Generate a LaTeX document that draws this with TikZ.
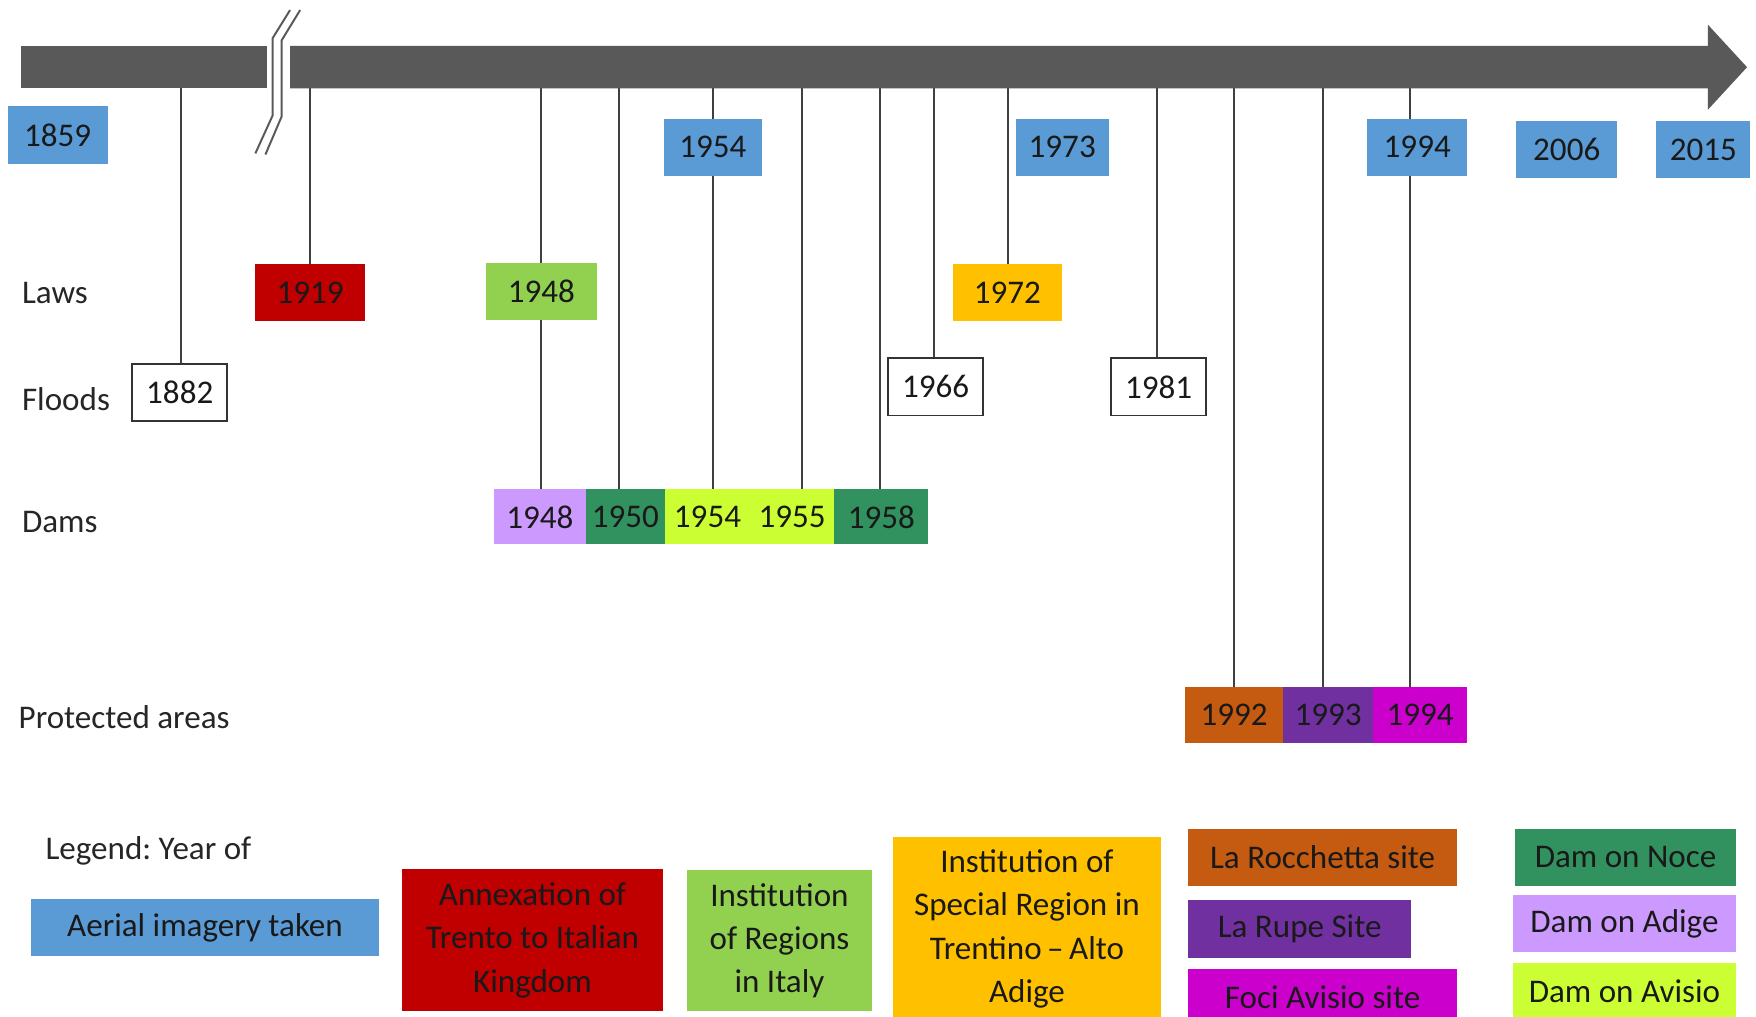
\documentclass[tikz,border=0pt]{standalone}
\usepackage{fontspec}
\setmainfont{Carlito}
\usetikzlibrary{positioning,backgrounds}
\definecolor{barcol}{HTML}{595959}
\definecolor{aerial}{HTML}{5B9BD5}
\definecolor{annex}{HTML}{C00000}
\definecolor{regions}{HTML}{92D050}
\definecolor{special}{HTML}{FFC000}
\definecolor{noce}{RGB}{49,145,95}
\definecolor{adige}{HTML}{CC99FF}
\definecolor{avisio}{HTML}{CCFF33}
\definecolor{rocchetta}{HTML}{C55A11}
\definecolor{rupe}{HTML}{7030A0}
\definecolor{foci}{HTML}{CC00CC}
\begin{document}
\begin{tikzpicture}[x=0.1mm, y=-0.1mm,
    yearbox/.style={inner sep=0pt, outer sep=0pt, minimum height=5.1mm, font=\fontsize{8.4}{11}\selectfont, text=black!90},
    dambox/.style={yearbox, minimum height=4.9mm},
    floodbox/.style={yearbox, draw=black!80, fill=white, line width=0.5pt},
    legbox/.style={yearbox, align=center},
    tick/.style={draw=black!75, line width=0.5pt},
    rowlabel/.style={anchor=west, inner sep=0pt, font=\fontsize{8.4}{11}\selectfont, text=black!85}]
    \useasboundingbox (0,0) rectangle (1568,908);
    \clip (0,0) rectangle (1568,908);

    % time axis with break
    \fill[barcol] (19,41) rectangle (238,79);
    \fill[barcol] (259,41) -- (1525,41) -- (1525,22) -- (1560,60) -- (1525,98) -- (1525,79) -- (259,79) -- cycle;
    \draw[barcol, line width=0.5pt] (259,9) -- (243.5,34) -- (243.5,103) -- (228,137);
    \draw[barcol, line width=0.5pt] (268,9) -- (251.5,36) -- (251.5,104) -- (237,138);
    \foreach \yr/\px in {1882/162, 1919/277, 1948/483, 1950/553, 1954/637, 1955/716, 1958/786,
        1966/834, 1972/900, 1981/1033, 1992/1102, 1993/1181, 1994/1259}
        \coordinate (t\yr) at (\px,79);

    % row labels
    \node[rowlabel] (laws) at (19,262) {Laws};
    \node[rowlabel] (floods) at (19,356) {Floods};
    \node[rowlabel] (dams) at (19,466) {Dams};
    \node[rowlabel] (protected) at (16,640) {Protected areas};

    % aerial imagery
    \node[yearbox, fill=aerial, minimum width=8.9mm] (a1859) at (51.5,120.5) {1859};
    \node[yearbox, fill=aerial, minimum width=8.7mm] (a1954) at (636.5,131.5) {1954};
    \node[yearbox, fill=aerial, minimum width=8.3mm] (a1973) at (948.5,131.5) {1973};
    \node[yearbox, fill=aerial, minimum width=8.9mm] (a1994) at (1265.5,131.5) {1994};
    \node[yearbox, fill=aerial, minimum width=9.0mm] (a2006) at (1399,133.5) {2006};
    \node[yearbox, fill=aerial, minimum width=8.4mm] (a2015) at (1521,133.5) {2015};

    % laws
    \node[yearbox, fill=annex, minimum width=9.8mm] (l1919) at (277,261.5) {1919};
    \node[yearbox, fill=regions, minimum width=9.9mm] (l1948) at (483.5,260.5) {1948};
    \node[yearbox, fill=special, minimum width=9.7mm] (l1972) at (899.5,261.5) {1972};

    % floods
    \node[floodbox, minimum width=8.5mm] (f1882) at (160.5,350.5) {1882};
    \node[floodbox, minimum width=8.5mm] (f1966) at (835.5,345.5) {1966};
    \node[floodbox, minimum width=8.5mm] (f1981) at (1034.5,345.5) {1981};

    % dams
    \node[dambox, fill=adige, minimum width=8.2mm] (d1948) at (482,461.5) {1948};
    \node[dambox, fill=noce, minimum width=7.1mm, right=0pt of d1948] (d1950) {1950};
    \node[dambox, fill=avisio, minimum width=7.55mm, right=0pt of d1950] (d1954) {1954};
    \node[dambox, fill=avisio, minimum width=7.55mm, right=0pt of d1954] (d1955) {1955};
    \node[dambox, fill=noce, minimum width=8.4mm, right=0pt of d1955] (d1958) {1958};

    % protected areas
    \node[yearbox, fill=rocchetta, minimum width=8.8mm, minimum height=5mm] (p1992) at (1102,638) {1992};
    \node[yearbox, fill=rupe, minimum width=8mm, minimum height=5mm, right=0pt of p1992] (p1993) {1993};
    \node[yearbox, fill=foci, minimum width=8.4mm, minimum height=5mm, right=0pt of p1993] (p1994) {1994};

    % legend
    \node[rowlabel] (legend) at (40,760) {Legend:\ Year of};
    \node[legbox, fill=aerial, minimum width=31mm] (kaerial) at (183,828.5) {Aerial imagery taken};
    \node[legbox, fill=annex, minimum width=23.3mm, minimum height=12.7mm] (kannex) at (475.5,839.5) {Annexation of\\Trento to Italian\\Kingdom};
    \node[legbox, fill=regions, minimum width=16.6mm, minimum height=12.6mm] (kregions) at (696,840) {Institution\\of Regions\\in Italy};
    \node[legbox, fill=special, minimum width=24mm, minimum height=16.5mm] (kspecial) at (917,829.5) {Institution of\\Special Region in\\Trentino\,–\,Alto\\Adige};
    \node[legbox, fill=rocchetta, minimum width=24mm] (krocchetta) at (1181,765.5) {La Rocchetta site};
    \node[legbox, fill=rupe, minimum width=19.9mm] (krupe) at (1160.5,829.5) {La Rupe Site};
    \node[legbox, fill=foci, minimum width=24mm] (kfoci) at (1181,890.5) {Foci Avisio site};
    \node[legbox, fill=noce, minimum width=19.7mm] (knoce) at (1451.5,765.5) {Dam on Noce};
    \node[legbox, fill=adige, minimum width=19.9mm] (kadige) at (1450.5,825) {Dam on Adige};
    \node[legbox, fill=avisio, minimum width=19.9mm] (kavisio) at (1450.5,885.5) {Dam on Avisio};

    % drop lines from the axis
    \begin{scope}[on background layer]
        \draw[tick] (t1882) -- (t1882 |- f1882.north);
        \draw[tick] (t1919) -- (t1919 |- l1919.north);
        \draw[tick] (t1948) -- (t1948 |- d1948.north);
        \draw[tick] (t1950) -- (t1950 |- d1950.north);
        \draw[tick] (t1954) -- (t1954 |- d1954.north);
        \draw[tick] (t1955) -- (t1955 |- d1955.north);
        \draw[tick] (t1958) -- (t1958 |- d1958.north);
        \draw[tick] (t1966) -- (t1966 |- f1966.north);
        \draw[tick] (t1972) -- (t1972 |- l1972.north);
        \draw[tick] (t1981) -- (t1981 |- f1981.north);
        \draw[tick] (t1992) -- (t1992 |- p1992.north);
        \draw[tick] (t1993) -- (t1993 |- p1993.north);
        \draw[tick] (t1994) -- (t1994 |- p1994.north);
    \end{scope}
\end{tikzpicture}
\end{document}
